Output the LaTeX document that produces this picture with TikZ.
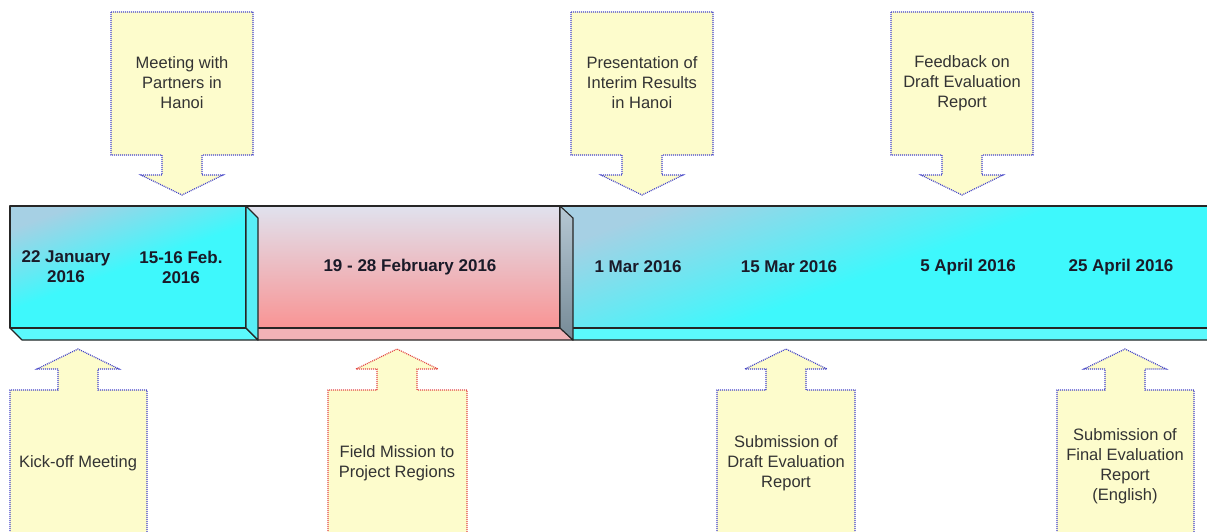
\documentclass[tikz,border=0pt]{standalone}
\usepackage{fontspec}
\setmainfont{Liberation Sans}
\usepackage{tikz}

\definecolor{barlight}{RGB}{166,208,228}
\definecolor{barcyan}{RGB}{62,248,252}
\definecolor{pinktop}{RGB}{224,226,238}
\definecolor{pinkbot}{RGB}{249,148,148}
\definecolor{pinkside}{RGB}{242,178,182}
\definecolor{greytop}{RGB}{182,200,212}
\definecolor{greybot}{RGB}{118,138,150}
\definecolor{notefill}{RGB}{253,252,204}
\definecolor{noteblue}{RGB}{66,66,200}
\definecolor{notered}{RGB}{226,70,70}
\definecolor{datecol}{RGB}{26,26,40}

\begin{document}
\begin{tikzpicture}[x=1pt,y=-1pt,
    face/.style={draw=black!85, line width=1.1pt, line join=round},
    cyanface/.style={face, top color=barlight, bottom color=barcyan, middle color=barcyan, shading angle=20},
    note/.style={fill=notefill, draw=noteblue, dash pattern=on 1pt off 1pt, line width=1.2pt},
    notetext/.style={align=center, text=black!80, font=\fontsize{16.5}{20}\selectfont},
    datetext/.style={align=center, text=datecol, font=\fontsize{17}{20}\selectfont\bfseries}]

        \useasboundingbox (0,0) rectangle (1207,532);

        % last part of the bar (March/April), runs off to the right
        \draw[face, fill=barcyan!85!white] (560,328) -- (1220,328) -- (1220,340) -- (573,340) -- cycle;
        \draw[cyanface] (560,206) rectangle (1220,328);

        % middle part of the bar (field mission)
        \draw[face, fill=pinkside] (246,328) -- (560,328) -- (573,340) -- (258,340) -- cycle;
        \draw[face, top color=pinktop, bottom color=pinkbot] (246,206) rectangle (560,328);
        \draw[face, top color=greytop, bottom color=greybot] (560,206) -- (573,218) -- (573,340) -- (560,328) -- cycle;

        % first part of the bar (January/February)
        \draw[face, fill=barcyan!85!white] (10,328) -- (246,328) -- (258,340) -- (22,340) -- cycle;
        \draw[cyanface] (10,206) rectangle (246,328);
        \draw[face, fill=barcyan!75!barlight] (246,206) -- (258,218) -- (258,340) -- (246,328) -- cycle;

        % dates on the bar
        \node[datetext] (jan22) at (66,267) {22 January\\2016};
        \node[datetext] (feb15) at (181,267) {15-16 Feb.\\2016};
        \node[datetext] (feb19) at (410,267) {19 - 28 February 2016};
        \node[datetext] (mar1) at (638,267) {1 Mar 2016};
        \node[datetext] (mar15) at (789,267) {15 Mar 2016};
        \node[datetext] (apr5) at (968,267) {5 April 2016};
        \node[datetext] (apr25) at (1121,267) {25 April 2016};

        % arrows from above, pointing down at the bar
        \draw[note] (111,12) -- (253,12) -- (253,155) -- (202,155) -- (202,175) -- (223,175) -- (182,195)
            -- (141,175) -- (162,175) -- (162,155) -- (111,155) -- cycle;
        \draw[note] (571,12) -- (713,12) -- (713,155) -- (662,155) -- (662,175) -- (683,175) -- (642,195)
            -- (601,175) -- (622,175) -- (622,155) -- (571,155) -- cycle;
        \draw[note] (891,12) -- (1033,12) -- (1033,155) -- (982,155) -- (982,175) -- (1003,175) -- (962,195)
            -- (921,175) -- (942,175) -- (942,155) -- (891,155) -- cycle;

        \node[notetext] (partners) at (182,83) {Meeting with\\Partners in\\Hanoi};
        \node[notetext] (interim) at (642,83) {Presentation of\\Interim Results\\in Hanoi};
        \node[notetext] (feedback) at (962,83) {Feedback on\\Draft Evaluation\\Report};

        % arrows from below, pointing up at the bar
        \draw[note] (10,545) -- (10,390) -- (58,390) -- (58,369) -- (37,369) -- (78,349)
            -- (119,369) -- (98,369) -- (98,390) -- (147,390) -- (147,545);
        \draw[note, draw=notered] (328,545) -- (328,390) -- (377,390) -- (377,369) -- (356,369) -- (397,349)
            -- (438,369) -- (417,369) -- (417,390) -- (467,390) -- (467,545);
        \draw[note] (717,545) -- (717,390) -- (766,390) -- (766,369) -- (745,369) -- (786,349)
            -- (827,369) -- (806,369) -- (806,390) -- (855,390) -- (855,545);
        \draw[note] (1057,545) -- (1057,390) -- (1105,390) -- (1105,369) -- (1084,369) -- (1125,349)
            -- (1166,369) -- (1145,369) -- (1145,390) -- (1194,390) -- (1194,545);

        \node[notetext] (kickoff) at (78,463) {Kick-off Meeting};
        \node[notetext] (mission) at (397,463) {Field Mission to\\Project Regions};
        \node[notetext] (draft) at (786,463) {Submission of\\Draft Evaluation\\Report};
        \node[notetext] (final) at (1125,466) {Submission of\\Final Evaluation\\Report\\(English)};

      \end{tikzpicture}
\end{document}
